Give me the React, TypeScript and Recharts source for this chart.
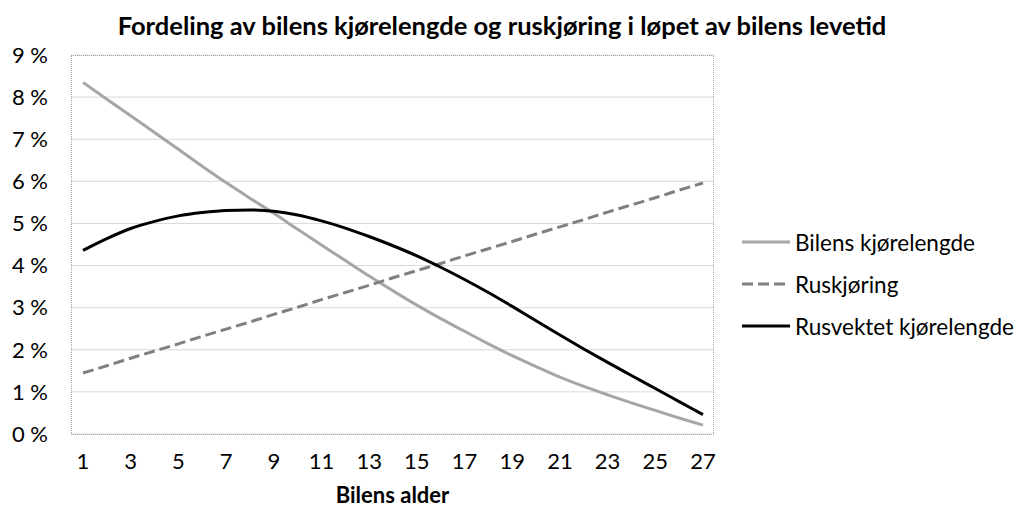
import React from 'react'
import { LineChart, Line, XAxis, YAxis, CartesianGrid } from 'recharts'

// Fordeling av bilens kjørelengde og ruskjøring — line chart, Excel look

const ages = [
  1, 2, 3, 4, 5, 6, 7, 8, 9, 10, 11, 12, 13, 14, 15, 16, 17, 18, 19, 20, 21, 22, 23, 24, 25, 26, 27,
]

const kjorelengde = [
  8.35, 7.95, 7.56, 7.16, 6.76, 6.36, 5.97, 5.6, 5.24, 4.86, 4.49, 4.12, 3.75, 3.4, 3.06, 2.74,
  2.44, 2.14, 1.86, 1.6, 1.35, 1.13, 0.93, 0.74, 0.56, 0.38, 0.21,
]

const ruskjoring = [
  1.45, 1.62, 1.8, 1.97, 2.14, 2.32, 2.49, 2.66, 2.84, 3.01, 3.19, 3.36, 3.53, 3.71, 3.88, 4.05,
  4.23, 4.4, 4.57, 4.75, 4.92, 5.09, 5.27, 5.44, 5.61, 5.79, 5.96,
]

const rusvektet = [
  4.36, 4.64, 4.88, 5.05, 5.18, 5.26, 5.31, 5.32, 5.29, 5.2, 5.06, 4.89, 4.69, 4.47, 4.23, 3.96,
  3.67, 3.36, 3.03, 2.69, 2.35, 2.02, 1.7, 1.39, 1.08, 0.77, 0.46,
]

const yTicks = [0, 1, 2, 3, 4, 5, 6, 7, 8, 9]

const data = ages.map((a, i) => ({
  age: a,
  kjorelengde: kjorelengde[i],
  ruskjoring: ruskjoring[i],
  rusvektet: rusvektet[i],
}))

const FONT = 'Lato, "Open Sans", sans-serif'
const DASH = '11 5'

const legendItems = [
  { label: 'Bilens kjørelengde', color: '#a6a6a6', dash: undefined },
  { label: 'Ruskjøring', color: '#808080', dash: DASH },
  { label: 'Rusvektet kjørelengde', color: '#000000', dash: undefined },
]

function LegendBox() {
  return (
    <div
      style={{
        position: 'absolute',
        left: 740,
        top: 221,
        fontFamily: FONT,
        fontSize: 22.5,
        color: '#000',
      }}
    >
      {legendItems.map((it) => (
        <div key={it.label} style={{ display: 'flex', alignItems: 'center', height: 42, whiteSpace: 'nowrap' }}>
          <svg width={50} height={10} style={{ marginRight: 5 }}>
            <line
              x1={2}
              y1={5}
              x2={50}
              y2={5}
              stroke={it.color}
              strokeWidth={3}
              strokeDasharray={it.dash}
            />
          </svg>
          <span>{it.label}</span>
        </div>
      ))}
    </div>
  )
}

export default function App() {
  return (
    <div style={{ position: 'absolute', left: 0, top: 0, width: 1021, height: 510, background: '#fff' }}>
      <div
        style={{
          position: 'absolute',
          left: 0,
          top: 9,
          width: 1004,
          textAlign: 'center',
          fontFamily: FONT,
          fontWeight: 'bold',
          fontSize: 25.5,
          lineHeight: '32px',
          color: '#000',
          whiteSpace: 'nowrap',
        }}
      >
        Fordeling av bilens kjørelengde og ruskjøring i løpet av bilens levetid
      </div>
      <LineChart
        width={1021}
        height={510}
        data={data}
        margin={{ top: 55, right: 307, bottom: 0, left: 0 }}
      >
        <CartesianGrid vertical={false} stroke="#d9d9d9" strokeWidth={1} />
        <XAxis
          dataKey="age"
          height={76}
          padding={{ left: 12, right: 11 }}
          axisLine={false}
          tickLine={false}
          tickSize={0}
          tickMargin={19}
          interval={1}
          tick={{ fontSize: 22, fill: '#000', fontFamily: FONT }}
          label={{
            value: 'Bilens alder',
            position: 'insideBottom',
            offset: 7,
            style: { fontSize: 22, fontWeight: 'bold', fill: '#000', fontFamily: FONT },
          }}
        />
        <YAxis
          width={71}
          domain={[0, 9]}
          ticks={yTicks}
          interval={0}
          axisLine={false}
          tickLine={false}
          tickSize={0}
          tickMargin={23}
          tickFormatter={(v) => `${v} %`}
          tick={{ fontSize: 22, fill: '#000', fontFamily: FONT }}
        />
        <Line
          dataKey="kjorelengde"
          name="Bilens kjørelengde"
          type="monotone"
          stroke="#a6a6a6"
          strokeWidth={3}
          dot={false}
          isAnimationActive={false}
        />
        <Line
          dataKey="ruskjoring"
          name="Ruskjøring"
          type="monotone"
          stroke="#808080"
          strokeWidth={3}
          strokeDasharray={DASH}
          dot={false}
          isAnimationActive={false}
        />
        <Line
          dataKey="rusvektet"
          name="Rusvektet kjørelengde"
          type="monotone"
          stroke="#000000"
          strokeWidth={3}
          dot={false}
          isAnimationActive={false}
        />
      </LineChart>
      <div
        style={{
          position: 'absolute',
          left: 71,
          top: 55,
          width: 643,
          height: 380,
          boxSizing: 'border-box',
          border: '1px dotted #a6a6a6',
          pointerEvents: 'none',
        }}
      />
      <LegendBox />
    </div>
  )
}
